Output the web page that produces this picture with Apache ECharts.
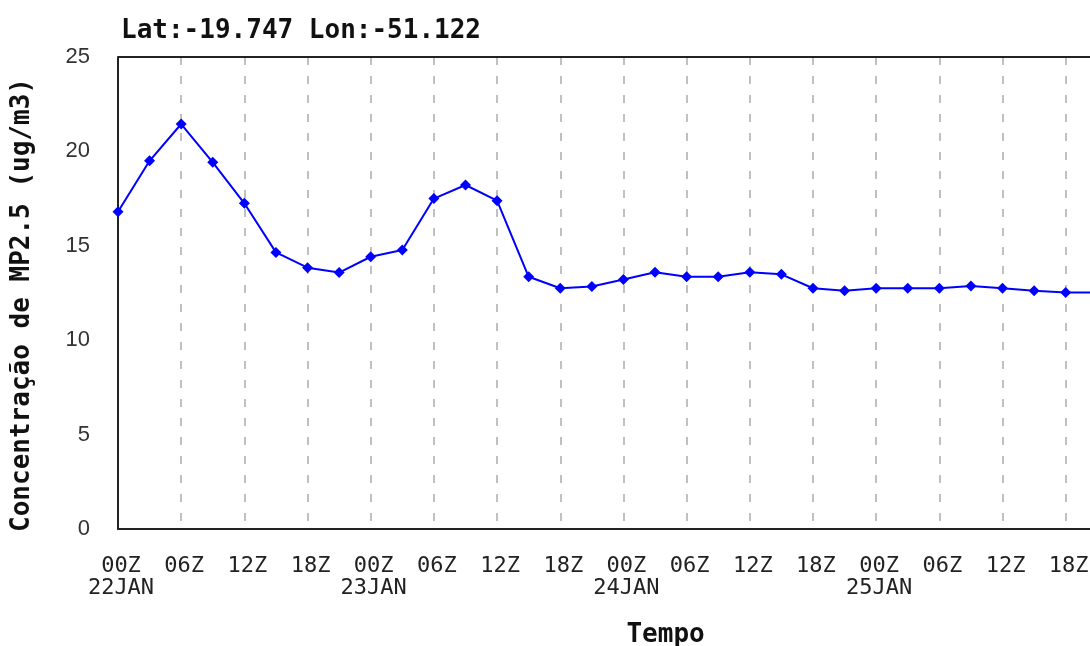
<!DOCTYPE html>
<html><head><meta charset="utf-8">
<script src="https://cdn.jsdelivr.net/npm/echarts@6/dist/echarts.min.js"></script>
<style>html,body{margin:0;padding:0;background:#fff}#c{width:1090px;height:646px}</style>
</head><body><div id="c"></div>
<script>
// hours since 00Z 22JAN
const hours = [0,3,6,9,12,15,18,21,24,27,30,33,36,39,42,45,48,51,54,57,60,63,66,69,72,75,78,81,84,87,90,93];
const values = [16.8,19.5,21.45,19.42,17.25,14.65,13.84,13.58,14.42,14.78,17.5,18.22,17.39,13.36,12.75,12.84,13.22,13.6,13.36,13.36,13.6,13.49,12.75,12.62,12.75,12.75,12.75,12.87,12.75,12.62,12.52,12.52];
const tickHours = [0,6,12,18,24,30,36,42,48,54,60,66,72,78,84,90];
const tickLabels = ['00Z\n22JAN','06Z','12Z','18Z','00Z\n23JAN','06Z','12Z','18Z','00Z\n24JAN','06Z','12Z','18Z','00Z\n25JAN','06Z','12Z','18Z'];
const yTicks = [0,5,10,15,20,25];
const yName = 'Concentração de MP2.5 (ug/m3)';

const chart = echarts.init(document.getElementById('c'));
const pxPerHour = 10.53;
const xMax = 104;
chart.setOption({
  animation:false,
  title:{text:'Lat:-19.747 Lon:-51.122',left:116,top:13,textStyle:{fontFamily:'DejaVu Sans Mono',fontWeight:'bold',fontSize:26,color:'#111'}},
  grid:{left:118,top:57,bottom:117,width:xMax*pxPerHour,containLabel:false,outerBoundsMode:'none'},
  xAxis:{type:'value',min:0,max:xMax,interval:6,
    name:'Tempo',nameLocation:'middle',nameGap:93,
    nameTextStyle:{fontFamily:'DejaVu Sans Mono',fontWeight:'bold',fontSize:26,color:'#111'},
    axisLine:{show:true,lineStyle:{color:'#222',width:2}},
    axisTick:{show:false},
    splitLine:{show:true,lineStyle:{color:'#c0c0c0',type:[8,11],width:2}},
    axisLabel:{margin:26,fontFamily:'DejaVu Sans Mono',fontSize:22,color:'#222',lineHeight:22,padding:[0,0,0,6],
      formatter:function(v){const i=tickHours.indexOf(v);return i>=0?tickLabels[i]:'';}}
  },
  yAxis:{type:'value',min:0,max:25,interval:5,
    axisLine:{show:true,lineStyle:{color:'#222',width:2}},
    axisTick:{show:false},
    splitLine:{show:false},
    axisLabel:{margin:28,fontFamily:'Liberation Sans',fontSize:22,color:'#333',
      formatter:function(v){return yTicks.indexOf(v)>=0?String(v):'';}}
  },
  graphic:[
    {type:'line',shape:{x1:118,y1:57,x2:1090,y2:57},style:{stroke:'#222',lineWidth:2},z:10},
    {type:'text',x:22,y:305,rotation:Math.PI/2,style:{text:yName,fontFamily:'DejaVu Sans Mono',fontWeight:'bold',fontSize:26,fill:'#111',textAlign:'center',textVerticalAlign:'middle'}}
  ],
  series:[{type:'line',data:hours.map((h,i)=>[h,values[i]]),
    symbol:'diamond',symbolSize:11,showSymbol:true,
    lineStyle:{color:'#0000ff',width:2},itemStyle:{color:'#0000ff'},clip:true}]
});
</script></body></html>
